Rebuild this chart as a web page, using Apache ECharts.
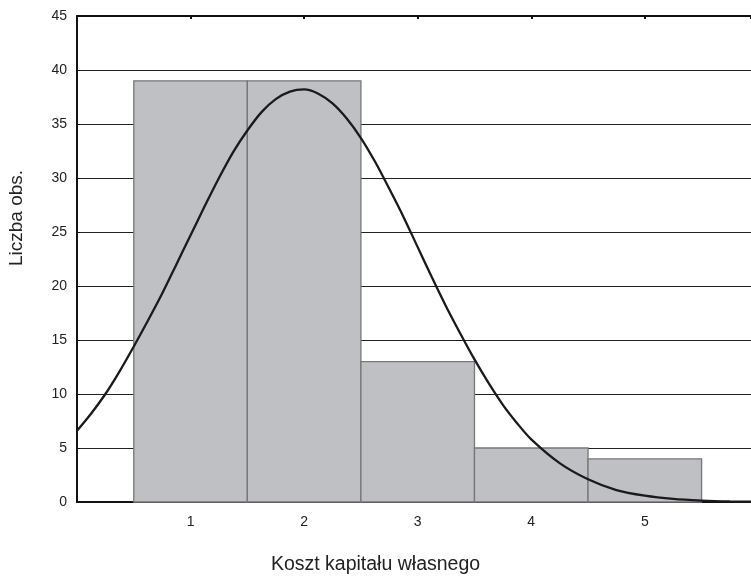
<!DOCTYPE html>
<html><head><meta charset="utf-8">
<script src="https://cdn.jsdelivr.net/npm/echarts@6/dist/echarts.min.js"></script>
<style>html,body{margin:0;padding:0;background:#fff}#c{width:751px;height:581px}</style>
</head><body><div id="c"></div>
<script>
var categories = [1, 2, 3, 4, 5];
var counts = [39, 39, 13, 5, 4];
var curveX = [0, 0.125, 0.25, 0.375, 0.5, 0.625, 0.75, 0.875, 1, 1.125, 1.25, 1.375, 1.5, 1.625, 1.75, 1.875, 2,
  2.125, 2.25, 2.375, 2.5, 2.625, 2.75, 2.875, 3, 3.125, 3.25, 3.375, 3.5, 3.625, 3.75, 3.875, 4,
  4.25, 4.5, 4.75, 5, 5.25, 5.5, 5.75, 6];
var curveY = [6.6, 8.2, 10.0, 12.1, 14.4, 16.8, 19.3, 22.0, 24.7, 27.4, 30.0, 32.4, 34.4, 36.1, 37.3, 38.0, 38.2,
  37.8, 36.9, 35.5, 33.7, 31.5, 29.0, 26.4, 23.6, 20.8, 18.1, 15.6, 13.2, 11.0, 9.0, 7.3, 5.8,
  3.6, 2.1, 1.1, 0.58, 0.28, 0.13, 0.05, 0.02];
var yTicks = [0, 5, 10, 15, 20, 25, 30, 35, 40, 45];
var xLabel = 'Koszt kapitału własnego';
var yLabel = 'Liczba obs.';

var barData = categories.map(function (c, i) { return [c, counts[i]]; });
var lineData = curveX.map(function (x, i) { return [x, curveY[i]]; });

var chart = echarts.init(document.getElementById('c'));
var font = 'Liberation Sans, Arial, sans-serif';
var xMax = 5.935;
chart.setOption({
  animation: false,
  backgroundColor: '#fff',
  grid: { left: 77, top: 16, bottom: 79, right: 0, containLabel: false },
  xAxis: [{
    type: 'value', min: 0, max: xMax, interval: 1,
    axisLine: { lineStyle: { color: '#111', width: 2 } },
    axisTick: { inside: true, length: 3, lineStyle: { color: '#111', width: 2 } },
    axisLabel: { color: '#222', fontSize: 14, fontFamily: font, margin: 13, showMaxLabel: false,
      formatter: function (v) { return (v >= 1 && v <= 5) ? String(v) : ''; } },
    splitLine: { show: false }
  }, {
    type: 'value', position: 'top', min: 0, max: xMax, interval: 1,
    axisLine: { show: true, lineStyle: { color: '#111', width: 2 } },
    axisTick: { inside: true, length: 3, lineStyle: { color: '#111', width: 2 } },
    axisLabel: { show: false }, splitLine: { show: false }
  }],
  yAxis: [{
    type: 'value', min: yTicks[0], max: yTicks[yTicks.length - 1], interval: 5,
    axisLine: { show: true, lineStyle: { color: '#111', width: 2 } },
    axisTick: { show: true, inside: true, length: 3, lineStyle: { color: '#111', width: 1 } },
    axisLabel: { color: '#222', fontSize: 14, fontFamily: font, margin: 10 },
    splitLine: { show: true, lineStyle: { color: '#222', width: 1 } }
  }],
  graphic: [
    { type: 'text', left: 'center', top: 555,
      style: { text: xLabel, fontSize: 19.5, fontFamily: font, fill: '#222' } },
    { type: 'text', x: 7, y: 218, rotation: Math.PI / 2,
      style: { text: yLabel, fontSize: 19, fontFamily: font, fill: '#222', align: 'center', verticalAlign: 'top' } }
  ],
  series: [{
    type: 'custom',
    data: barData,
    z: 3,
    renderItem: function (params, api) {
      var x = api.value(0), y = api.value(1);
      var p0 = api.coord([x - 0.5, y]);
      var p1 = api.coord([x + 0.5, 0]);
      return {
        type: 'rect',
        shape: { x: p0[0], y: p0[1], width: p1[0] - p0[0], height: p1[1] - p0[1] },
        style: { fill: '#bfc0c4', stroke: '#777', lineWidth: 1.3 }
      };
    }
  }, {
    type: 'line',
    data: lineData,
    smooth: 0.3,
    showSymbol: false,
    clip: true,
    z: 5,
    lineStyle: { color: '#1a1a1a', width: 2.3 }
  }]
});
</script></body></html>
